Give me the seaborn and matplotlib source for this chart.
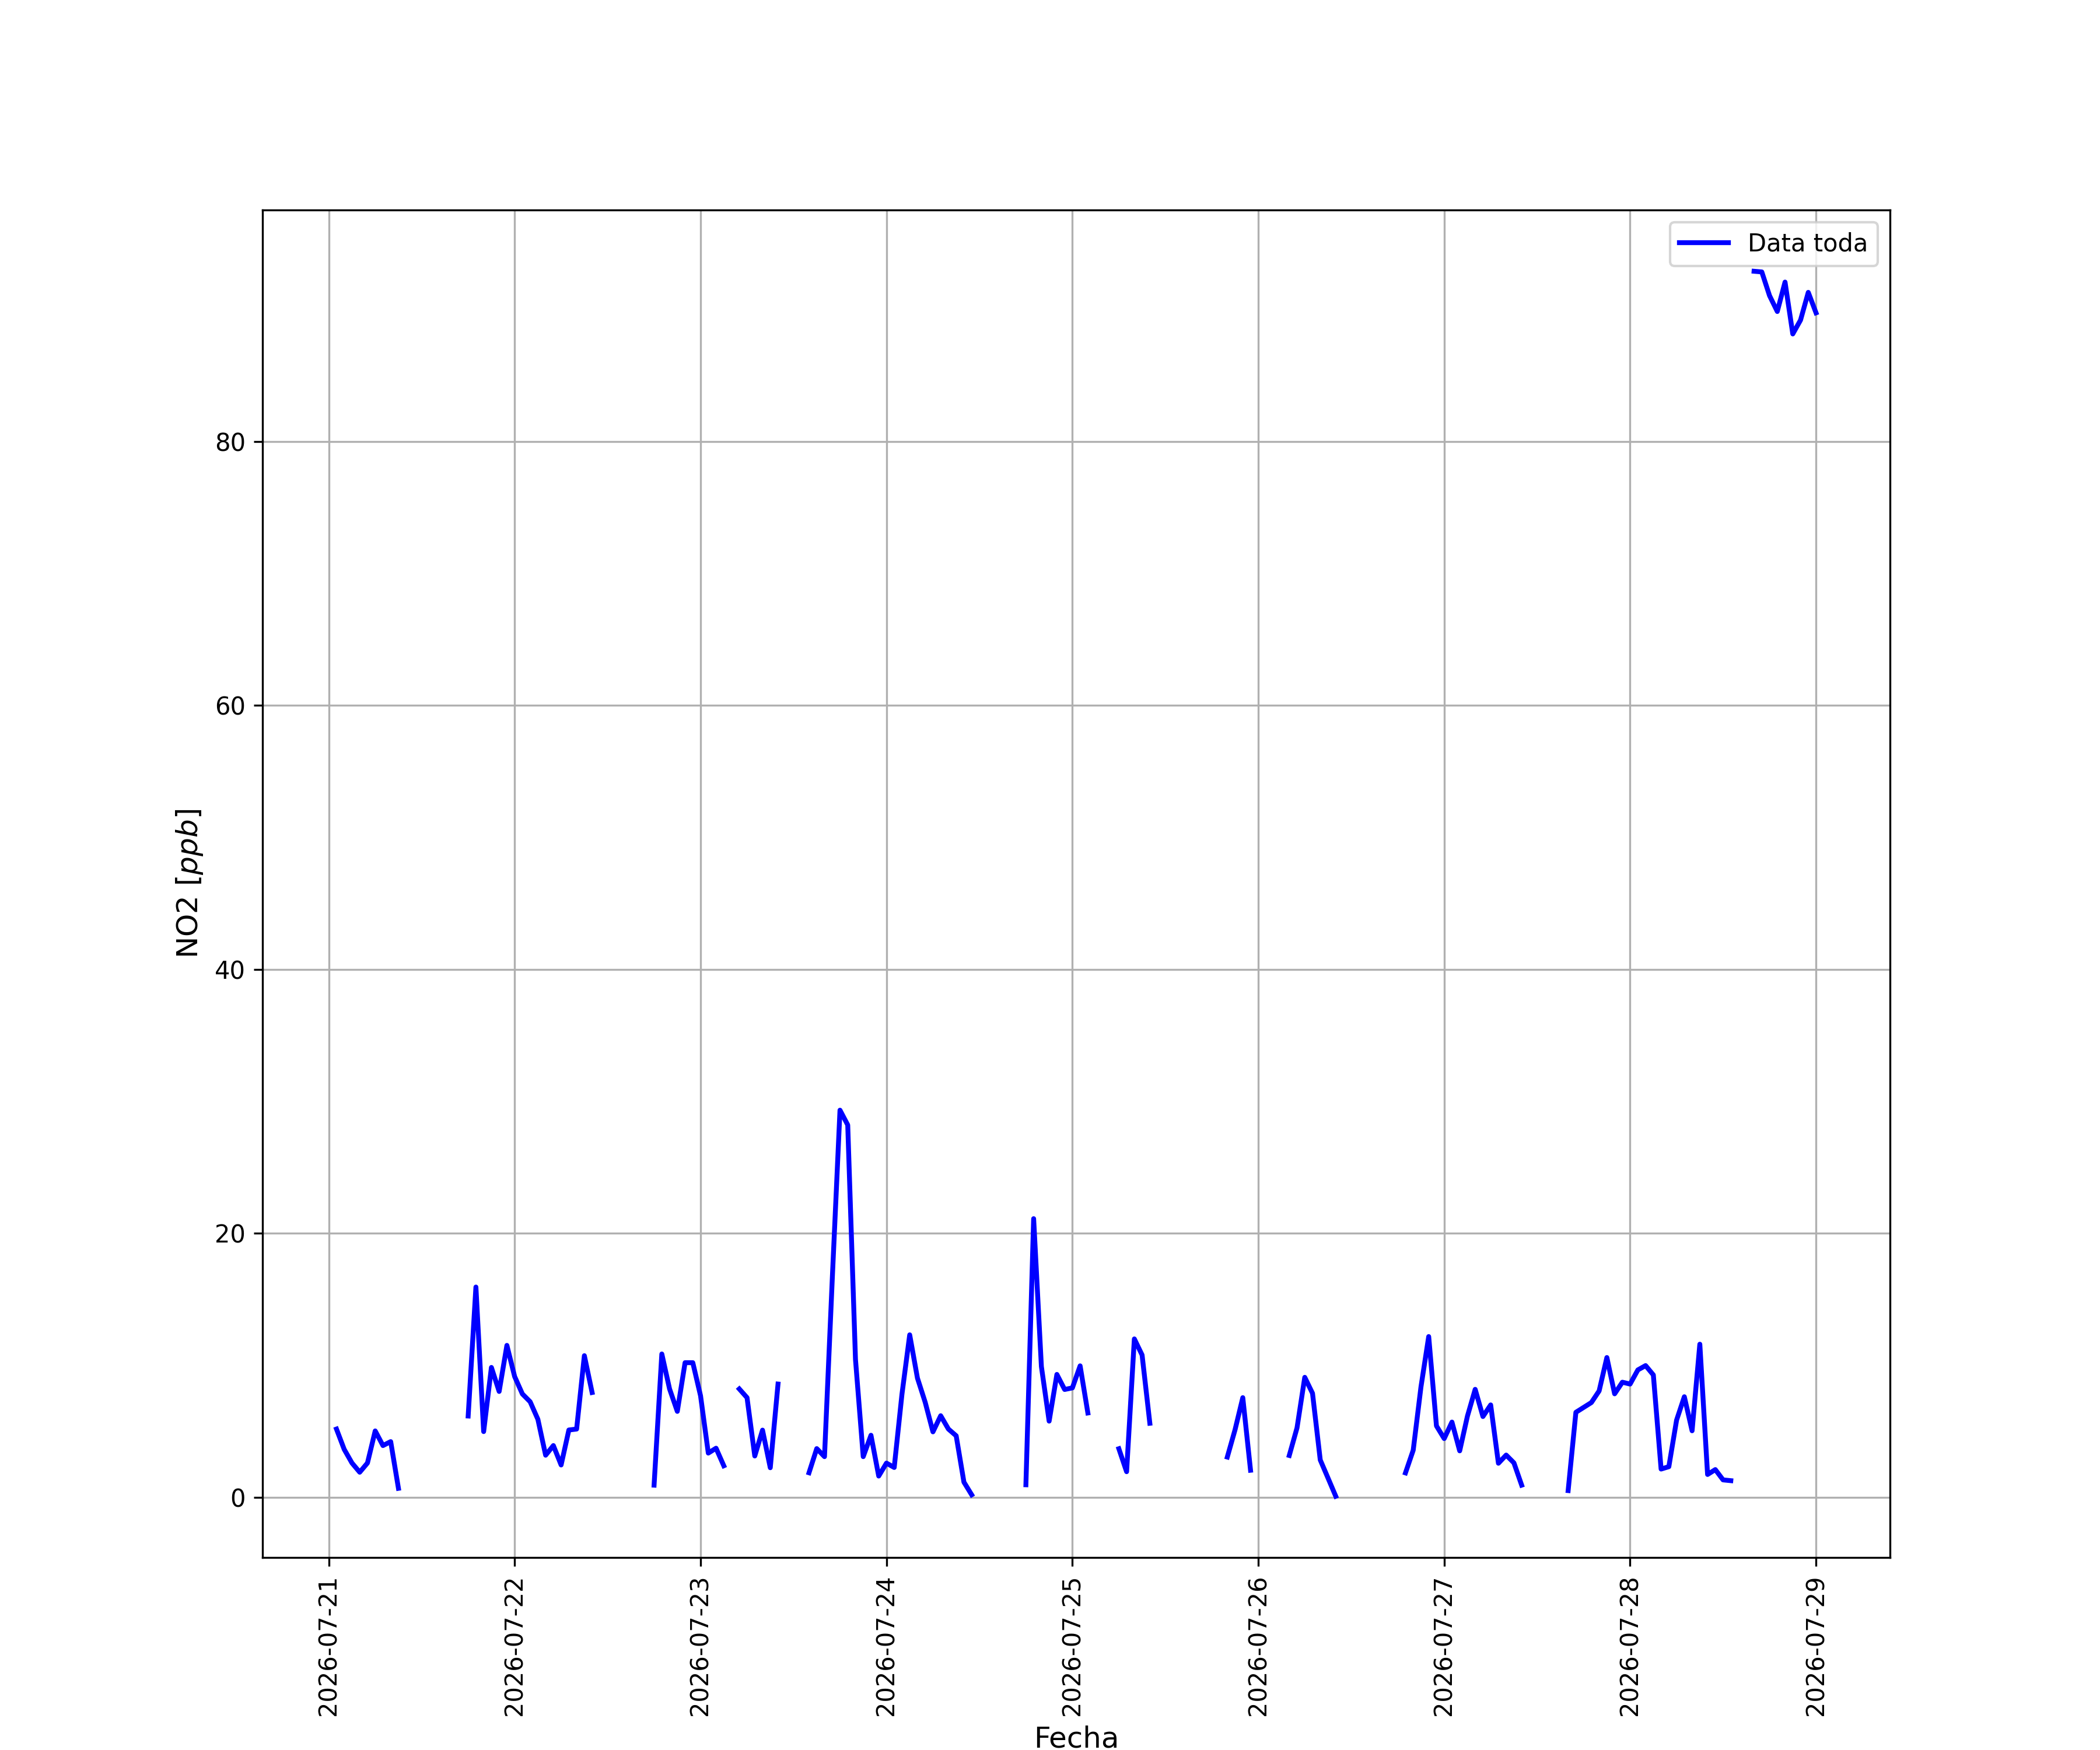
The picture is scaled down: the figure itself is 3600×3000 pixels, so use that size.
import matplotlib
matplotlib.use("Agg")
import matplotlib.pyplot as plt
import matplotlib.dates as mdates
import seaborn as sns
import pandas as pd

# Hourly NO2 records, split into the continuous stretches seen in the chart
inicio = pd.Timestamp("2026-07-21 00:00")

tramo_horas = [1, 18, 42, 53, 62, 90, 102, 116, 124, 139, 160, 184]  # first hour of each stretch

tramo_1 = [5.18, 3.64, 2.61, 1.91, 2.61, 5.04, 3.93, 4.23, 0.69]
tramo_2 = [6.17, 15.94, 4.99, 9.85, 8.03, 11.52, 9.16, 7.84, 7.25, 5.92, 3.20,
           3.93, 2.46, 5.11, 5.18, 10.74, 7.95]
tramo_3 = [0.93, 10.87, 8.22, 6.52, 10.21, 10.21, 7.70, 3.36, 3.73, 2.40]
tramo_4 = [8.22, 7.56, 3.14, 5.10, 2.25, 8.59]
tramo_5 = [1.87, 3.70, 3.09, 16.5, 29.34, 28.22, 10.46, 3.09, 4.71, 1.62, 2.60,
           2.27, 7.82, 12.32, 9.04, 7.21, 4.97, 6.19, 5.18, 4.67, 1.16, 0.20]
tramo_6 = [0.96, 21.12, 9.92, 5.78, 9.32, 8.18, 8.30, 9.97, 6.40]
tramo_7 = [3.69, 1.95, 12.01, 10.79, 5.62]
tramo_8 = [3.06, 5.13, 7.56, 2.06]
tramo_9 = [3.18, 5.27, 9.10, 7.89, 2.84, 1.47, 0.09]
tramo_10 = [1.86, 3.58, 8.37, 12.19, 5.42, 4.46, 5.71, 3.53, 6.16, 8.19, 6.13,
            7.01, 2.59, 3.21, 2.62, 0.93]
tramo_11 = [0.52, 6.45, 6.82, 7.19, 8.07, 10.60, 7.85, 8.73, 8.59, 9.66, 9.99,
            9.28, 2.15, 2.33, 5.86, 7.63, 5.05, 11.61, 1.74, 2.11, 1.33, 1.27]
tramo_12 = [92.9, 92.85, 91.05, 89.85, 92.08, 88.15, 89.2, 91.3, 89.75]

tramos = [tramo_1, tramo_2, tramo_3, tramo_4, tramo_5, tramo_6,
          tramo_7, tramo_8, tramo_9, tramo_10, tramo_11, tramo_12]

filas = []
for i, (h0, valores) in enumerate(zip(tramo_horas, tramos)):
    for k, v in enumerate(valores):
        filas.append({"Fecha": inicio + pd.Timedelta(hours=h0 + k),
                      "NO2": v, "tramo": i})
df = pd.DataFrame(filas)

fig, ax = plt.subplots(figsize=(12, 10), dpi=300)
sns.lineplot(data=df, x="Fecha", y="NO2", units="tramo", estimator=None,
             color="blue", linewidth=2, label="Data toda", ax=ax)

ax.grid(True)
ax.xaxis.set_major_locator(mdates.DayLocator())
ax.xaxis.set_major_formatter(mdates.DateFormatter("%Y-%m-%d"))
plt.xticks(rotation=90)
ax.set_xlabel("Fecha", fontsize=12)
ax.set_ylabel("NO2 [$ppb$]", fontsize=12)

handles, labels = ax.get_legend_handles_labels()
ax.legend(handles[:1], labels[:1], loc="upper right")

fig.savefig("out.png", dpi=300)
